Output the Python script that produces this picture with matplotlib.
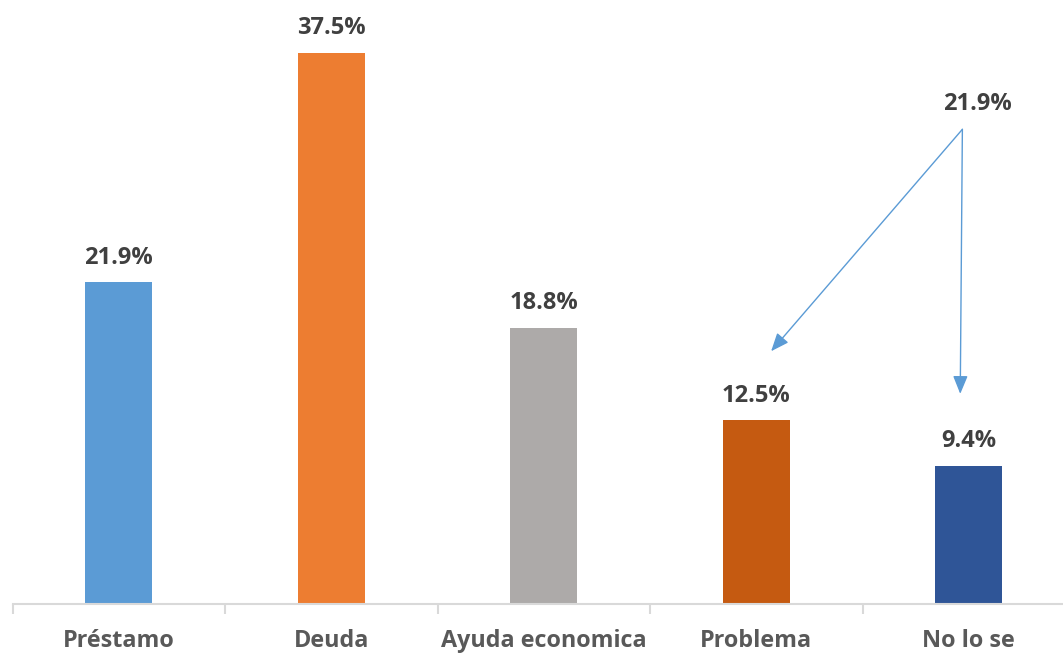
import matplotlib.pyplot as plt

categories = ["Préstamo", "Deuda", "Ayuda economica", "Problema", "No lo se"]
values = [21.9, 37.5, 18.8, 12.5, 9.4]
colors = ["#5B9BD5", "#ED7D31", "#ADAAA9", "#C55A11", "#2F5597"]

# callout: the 21.9% shared by the last two categories
callout_text = "21.9%"
callout_pos = (4.04, 34.0)
arrow_start = (3.97, 32.3)
arrow_ends = [(3.07, 17.2), (3.96, 14.3)]

plt.rcParams['font.family'] = ['Open Sans', 'DejaVu Sans']

fig = plt.figure(figsize=(10.63, 6.53), dpi=100)
ax = fig.add_axes([12.5 / 1063, 49 / 653, 1062.5 / 1063, 604 / 653])

x = range(len(categories))
ax.bar(x, values, width=0.315, color=colors, zorder=2)

for i, v in enumerate(values):
    ax.annotate(f"{v:.1f}%", (i, v), xytext=(0, 9), textcoords="offset points",
                ha="center", va="bottom", fontsize=17, fontweight="bold", color="#404040")

ax.text(callout_pos[0], callout_pos[1], callout_text, ha="center", va="center",
        fontsize=17, fontweight="bold", color="#404040")
for end in arrow_ends:
    ax.annotate("", xy=end, xytext=arrow_start,
                arrowprops=dict(arrowstyle="-|>,head_length=1.1,head_width=0.45",
                                color="#5B9BD5", lw=1.0, shrinkA=0, shrinkB=0))

ax.set_xlim(-0.5, 4.5)
ax.set_ylim(0, 41.1)
ax.set_xticks([i - 0.5 for i in range(6)], minor=False)
ax.set_xticks(list(x), minor=True)
ax.set_xticklabels([""] * 6)
ax.set_xticklabels(categories, minor=True, fontsize=16.8, fontweight="bold", color="#595959")
ax.tick_params(axis="x", which="major", length=7, width=1.5, color="#D9D9D9", direction="out")
ax.tick_params(axis="x", which="minor", length=0, pad=18)
ax.set_yticks([])
for s in ["top", "right", "left"]:
    ax.spines[s].set_visible(False)
ax.spines["bottom"].set_color("#D9D9D9")
ax.spines["bottom"].set_linewidth(1.5)

fig.savefig("out.png", dpi=100)
